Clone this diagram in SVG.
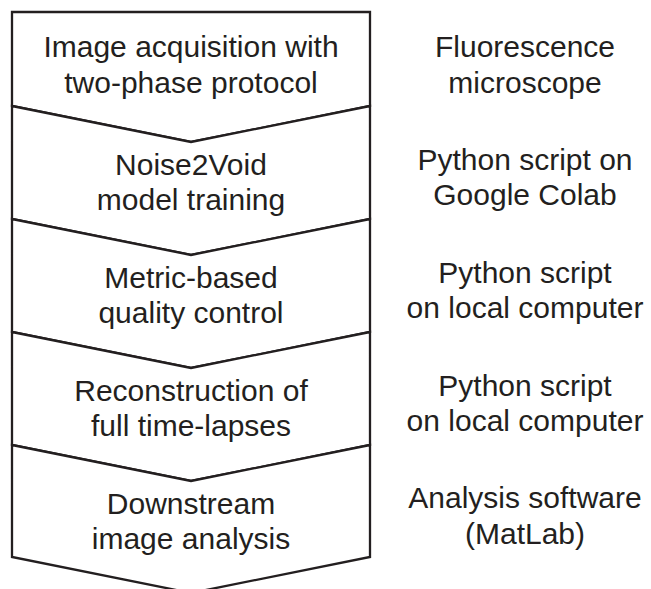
<svg xmlns="http://www.w3.org/2000/svg" width="651" height="589" viewBox="0 0 651 589">
<style>
.box{fill:#ffffff;stroke:#231f20;stroke-width:2.3;stroke-linejoin:miter}
.t{font-family:"Liberation Sans",Arial,sans-serif;font-size:30px;fill:#231f20;text-anchor:middle}
</style>
<rect width="651" height="589" fill="#ffffff"/>
<g id="step1">
<path class="box" d="M12,12 H370 V106 L191,142 L12,106 Z"/>
<text class="t" x="191" y="57">Image acquisition with</text>
<text class="t" x="191" y="93">two-phase protocol</text>
</g>
<g id="step2">
<path class="box" d="M12,106 L191,142 L370,106 V219 L191,255 L12,219 Z"/>
<text class="t" x="191" y="175">Noise2Void</text>
<text class="t" x="191" y="210">model training</text>
</g>
<g id="step3">
<path class="box" d="M12,219 L191,255 L370,219 V332 L191,368 L12,332 Z"/>
<text class="t" x="191" y="288">Metric-based</text>
<text class="t" x="191" y="323">quality control</text>
</g>
<g id="step4">
<path class="box" d="M12,332 L191,368 L370,332 V445 L191,481 L12,445 Z"/>
<text class="t" x="191" y="401">Reconstruction of</text>
<text class="t" x="191" y="436">full time-lapses</text>
</g>
<g id="step5">
<path class="box" d="M12,445 L191,481 L370,445 V557 L191,593 L12,557 Z"/>
<text class="t" x="191" y="514">Downstream</text>
<text class="t" x="191" y="549">image analysis</text>
</g>
<g id="tool1"><text class="t" x="525" y="57">Fluorescence</text><text class="t" x="525" y="93">microscope</text></g>
<g id="tool2"><text class="t" x="525" y="170">Python script on</text><text class="t" x="525" y="205">Google Colab</text></g>
<g id="tool3"><text class="t" x="525" y="283">Python script</text><text class="t" x="525" y="318">on local computer</text></g>
<g id="tool4"><text class="t" x="525" y="396">Python script</text><text class="t" x="525" y="431">on local computer</text></g>
<g id="tool5"><text class="t" x="525" y="508">Analysis software</text><text class="t" x="525" y="544">(MatLab)</text></g>
<g id="connectors"></g>
</svg>
